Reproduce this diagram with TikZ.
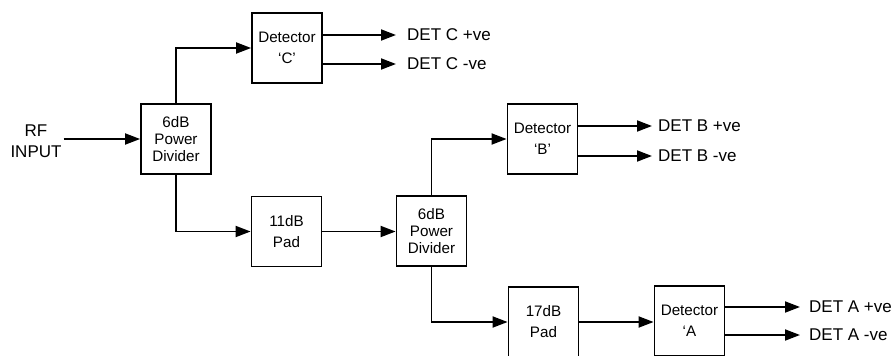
\documentclass[tikz,border=0pt]{standalone}
\usepackage{fontspec}
\setmainfont{Liberation Sans}
\usetikzlibrary{arrows.meta}
\begin{document}
\begin{tikzpicture}[x=1pt,y=1pt,
  blk/.style={draw=black,line width=1.8pt,minimum width=70pt,minimum height=70pt,inner sep=0pt,align=center,font=\fontsize{15.2}{21}\selectfont},
  blk3/.style={blk,font=\fontsize{15.2}{17}\selectfont},
  lbl/.style={inner sep=0pt,anchor=west,font=\fontsize{17}{21}\selectfont},
  arr/.style={line width=1.8pt,-{Triangle[length=15pt,width=11pt]}},
  wire/.style={line width=1.8pt}]
\useasboundingbox (0,0) rectangle (892,-356);
\node[blk3] (pd1) at (176,-139) {6dB\\Power\\Divider};
\node[blk] (detC) at (287,-48) {Detector\\‘C’};
\node[blk] (pad11) at (286.5,-231.5) {11dB\\Pad};
\node[blk3] (pd2) at (431.5,-231) {6dB\\Power\\Divider};
\node[blk] (detB) at (542.5,-139) {Detector\\‘B’};
\node[blk] (pad17) at (543.5,-322) {17dB\\Pad};
\node[blk] (detA) at (689.5,-321) {Detector\\‘A};
\node[inner sep=0pt,align=center,font=\fontsize{17}{21}\selectfont] (rf) at (36,-141.5) {RF\\INPUT};
\draw[arr] ([xshift=2pt]rf.east |- pd1.west) -- (pd1.west);
\draw[arr] (pd1.north) |- (detC.west);
\draw[arr] (pd1.south) |- (pad11.west);
\draw[arr] (pad11.east) -- (pad11.east -| pd2.west);
\draw[arr] (pd2.north) |- (detB.west);
\draw[arr] (pd2.south) |- (pad17.west);
\draw[arr] (pad17.east) -- (pad17.east -| detA.west);
\node[lbl] (cp) at (407,-35) {DET C +ve};
\node[lbl] (cm) at (407,-64) {DET C -ve};
\node[lbl] (bp) at (658,-126) {DET B +ve};
\node[lbl] (bm) at (658,-156) {DET B -ve};
\node[lbl] (ap) at (809,-307) {DET A +ve};
\node[lbl] (am) at (809,-335) {DET A -ve};
\draw[arr] (detC.east |- cp) -- ([xshift=-11pt]cp.west);
\draw[arr] (detC.east |- cm) -- ([xshift=-11pt]cm.west);
\draw[arr] (detB.east |- bp) -- ([xshift=-6pt]bp.west);
\draw[arr] (detB.east |- bm) -- ([xshift=-6pt]bm.west);
\draw[arr] (detA.east |- ap) -- ([xshift=-9pt]ap.west);
\draw[arr] (detA.east |- am) -- ([xshift=-9pt]am.west);
\end{tikzpicture}
\end{document}
